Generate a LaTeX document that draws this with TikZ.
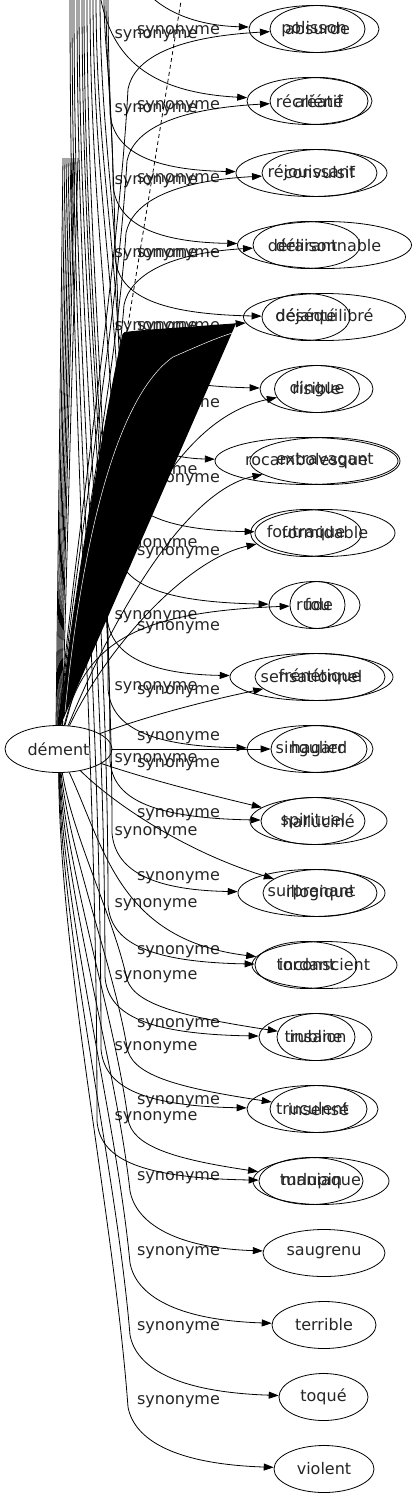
\documentclass[tikz,border=0pt]{standalone}
\usepackage{fontspec}
\setmainfont{DejaVu Sans}
\usetikzlibrary{arrows.meta,shapes.geometric}
\begin{document}
\begin{tikzpicture}[x=1pt,y=-1pt,
  every node/.style={font=\fontsize{16}{19}\selectfont, text=black!85},
  word/.style={ellipse, draw=black, line width=0.8pt, inner sep=0pt, minimum height=47pt},
  lab/.style={inner sep=0pt},
  synedge/.style={draw=black, line width=0.8pt, -{Triangle[length=10pt,width=7pt]}},
  plainline/.style={draw=black, line width=0.8pt},
  dashedge/.style={draw=black, line width=0.8pt, dash pattern=on 4pt off 3pt}]
\useasboundingbox (0,0) rectangle (417,1499);
\fill[white] (0,0) rectangle (417,1499);
\clip (0,0) rectangle (417,1499);

% source node
\node[word, minimum width=107pt] (dem) at (58.5,749) {dément};

% first set of targets
\foreach \x/\wid/\txt [count=\k] in {317.5/95/absurde, 319/98/aliéné, 319.5/115/convulsif, 306.5/107/délirant, 324.5/162/déséquilibré, 317/85/dingue, 325/150/extravagant, 306/104/foutraque, 317.5/55/fou, 320/130/frénétique, 319/96/hagard, 318.5/137/halluciné, 320/114/illogique, 324.5/145/inconscient, 316/78/insane, 318.5/97/insensé, 321/136/maniaque, 324/122/saugrenu, 324/104/terrible, 323.5/89/toqué, 324/100/violent}{
  \node[word, minimum width=\wid pt] (a\k) at (\x,{29+72*(\k-1)}) {\txt};
}
% second set of targets
\foreach \x/\wid/\txt [count=\k] in {314/130/polisson, 309.5/125/récréatif, 311.5/151/réjouissant, 324.5/174/déraisonnable, 306/88/déjanté, 316.5/113/risible, 306.5/183/rocambolesque, 325/140/formidable, 314.5/91/rude, 311.5/163/sensationnel, 310/126/singulier, 313/104/spirituel, 311.5/147/surprenant, 306/102/tordant, 315.5/113/trublion, 312.5/131/truculent, 311/104/turlupin}{
  \node[word, minimum width=\wid pt] (b\k) at (\x,{29+72*(\k-1)}) {\txt};
}

% edge labels
\foreach \y [count=\k] in {32,107,180,255,328,405,480,553,628,692,738,765,815,878,952,1025,1102,1178,1253,1328,1402}{
  \node[lab] (la\k) at (178.5,\y) {synonyme};
}
\foreach \y [count=\k] in {36,110,182,255,328,400,472,545,617,688,760,833,905,977,1048,1118}{
  \node[lab] (lb\k) at (156,\y) {synonyme};
}

% set 1 : upper far rows
\foreach \k/\xu/\cx in {1/128/66, 2/127/68, 3/126/70, 4/124/72}{
  \pgfmathsetmacro\yk{29+72*(\k-1)}
  \pgfmathsetmacro\wy{\yk+60}
  \pgfmathsetmacro\cy{\wy+0.3*(725-\wy)}
  \draw[synedge] (dem) .. controls (\cx,600) and ({\xu-10},\cy) .. (\xu,\wy)
     .. controls ({\xu+6},{\yk+30}) and ({\xu+45},{\yk+8}) .. (a\k);
}
% set 1 : near rows
\draw[synedge] (dem) .. controls (110,560) and (170,420) .. (a6);
\draw[synedge] (dem) .. controls (120,600) and (190,490) .. (a7);
\draw[synedge] (dem) .. controls (105,650) and (185,560) .. (a8);
\draw[synedge] (dem) .. controls (85,640) and (140,612) .. (a9);
\draw[synedge] (dem) .. controls (150,715) and (210,700) .. (a10);
\draw[synedge] (dem) -- (a11);
\draw[synedge] (dem) .. controls (150,780) and (210,795) .. (a12);
\draw[synedge] (dem) .. controls (110,800) and (180,850) .. (a13);
\draw[synedge] (dem) .. controls (105,850) and (120,940) .. (a14);
% set 1 : lower far rows
\foreach \k/\xu/\cx in {15/126/72, 16/127/70, 17/128/68}{
  \pgfmathsetmacro\yk{29+72*(\k-1)}
  \pgfmathsetmacro\wy{\yk-62}
  \pgfmathsetmacro\cya{773+0.3*(\wy-773)}
  \pgfmathsetmacro\cyb{\wy-0.3*(\wy-773)}
  \draw[synedge] (dem) .. controls (\cx,\cya) and ({\xu-14},\cyb) .. (\xu,\wy)
     .. controls ({\xu+4},{\yk-35}) and ({\xu+45},{\yk-22}) .. (a\k);
}
\foreach \k/\xu/\cx in {18/130/66, 19/130/64, 20/130/62, 21/128/60}{
  \pgfmathsetmacro\yk{29+72*(\k-1)}
  \pgfmathsetmacro\wy{\yk-62}
  \pgfmathsetmacro\cya{773+0.3*(\wy-773)}
  \pgfmathsetmacro\cyb{\wy-0.3*(\wy-773)}
  \draw[synedge] (dem) .. controls (\cx,\cya) and ({\xu-14},\cyb) .. (\xu,\wy)
     .. controls ({\xu+6},{\yk-30}) and ({\xu+45},{\yk-5}) .. (a\k);
}

% set 2 : edges coming from above
\coordinate (t1) at (128,-40);
\coordinate (t2) at (100,-5);
\draw[synedge] (t1) .. controls (140,0) and (180,25) .. (b1);
\draw[synedge] (t2) .. controls (110,50) and (140,92) .. (b2);
\foreach \k/\xt/\xv in {3/104/110, 4/106/113, 5/108/115, 6/100/118, 7/96/120, 8/93/120, 9/90/116, 10/87/107, 11/84/108, 12/82/110, 13/79/112, 14/77/108, 15/74/105, 16/72/101, 17/70/97}{
  \pgfmathsetmacro\yk{29+72*(\k-1)}
  \pgfmathsetmacro\wy{\yk-60}
  \coordinate (t\k) at (\xt,-5);
  \draw[synedge] (t\k) .. controls (\xt,{0.4*\wy}) and (\xv,{0.65*\wy}) .. (\xv,\wy)
     .. controls ({\xv+3},{\yk-25}) and ({\xv+35},{\yk-3}) .. (b\k);
}

% short bundle ending at the top of the source
\foreach \i/\x/\a in {1/63/96, 2/65/94, 3/67/92, 4/69/90, 5/71/88, 6/73/86, 7/75/84, 8/78/81}{
  \coordinate (u\i) at (\x,158);
  \draw[plainline] (u\i) -- (dem.\a);
}
% dashed connector
\coordinate (dtop) at (182,-5);
\draw[dashedge] (dem) -- (dtop);

% filled edge (black wedge)
\draw[synedge, fill=black] (dem) .. controls (72,600) and (112,380) .. (123,334)
   .. controls (125,331) and (140,331) .. (a5);
\draw[white, line width=0.5pt] (65,712) .. controls (80,560) and (112,400) .. (173,357)
   .. controls (205,343) and (225,334) .. (244,330);
\end{tikzpicture}
\end{document}
